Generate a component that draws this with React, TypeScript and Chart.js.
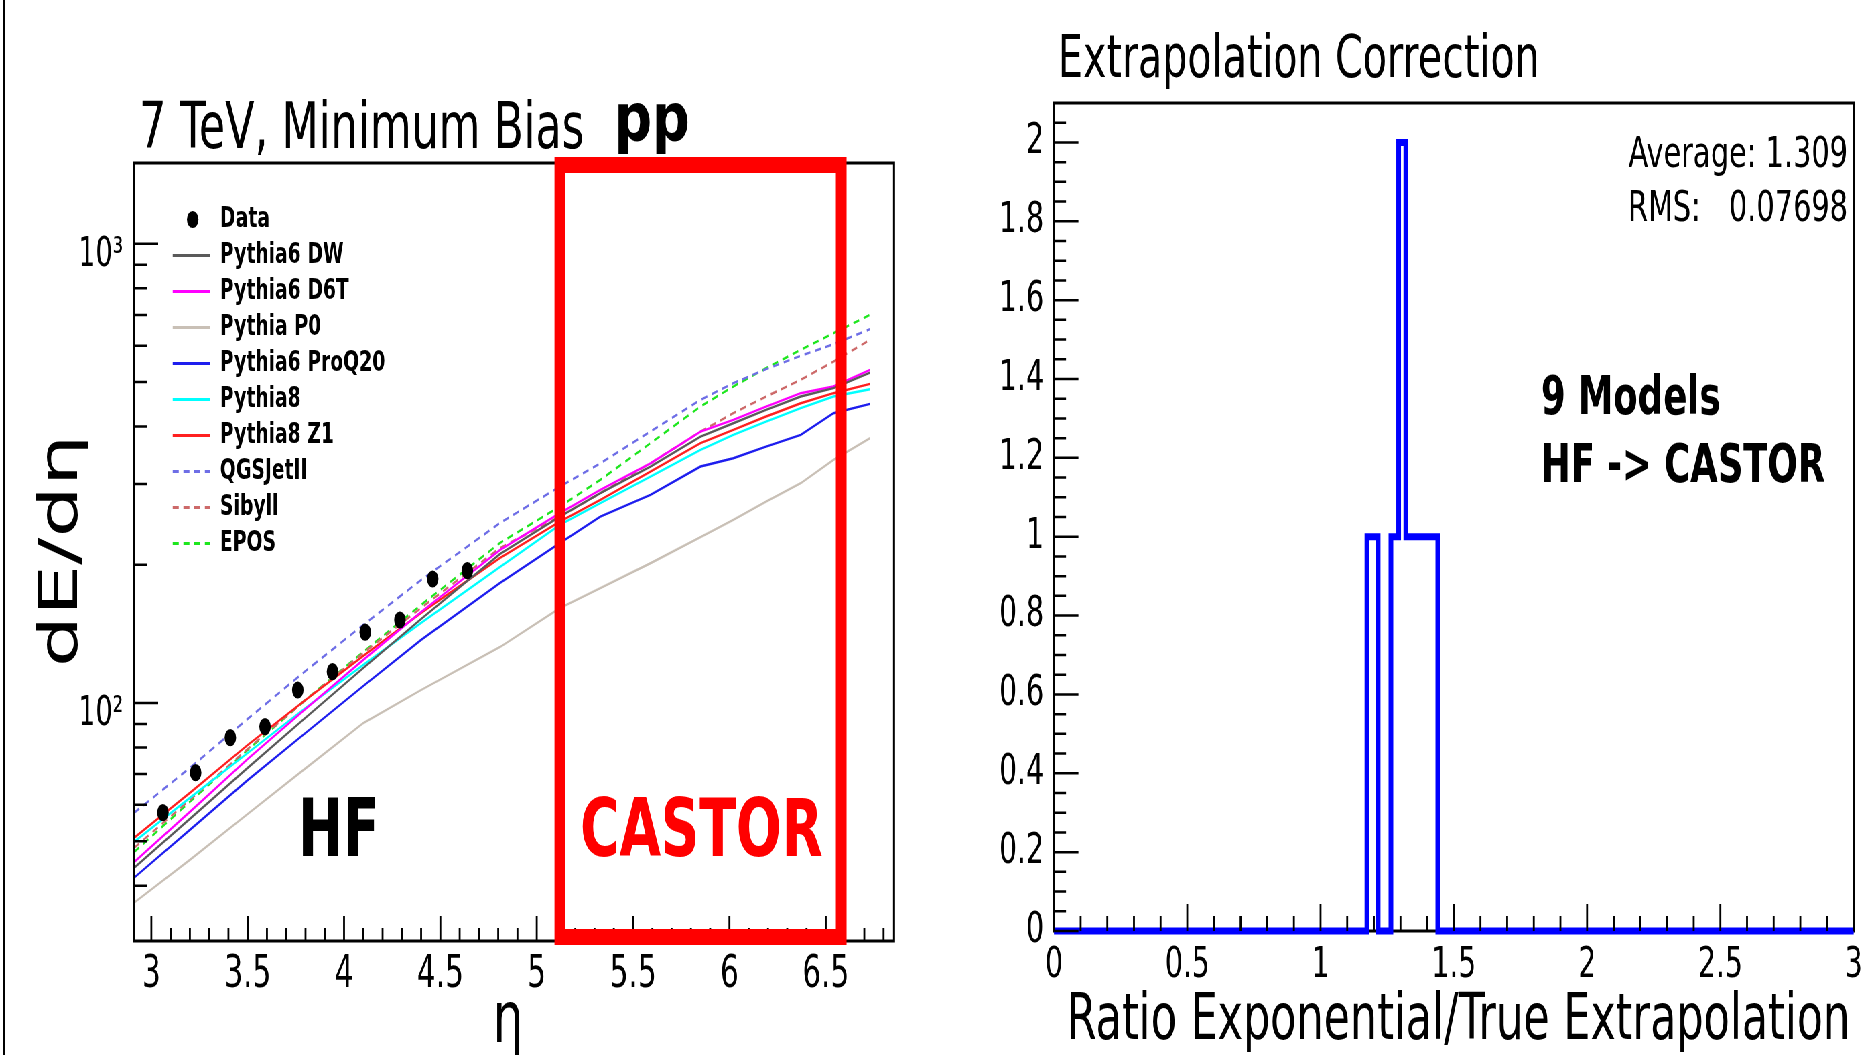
import React, { useEffect, useRef } from 'react';
import { Chart, registerables } from 'chart.js';

Chart.register(...registerables);

// ---------- layout helpers (picture is horizontally compressed) ----------
const K = 0.67;
const LEFT_W = 1433;
const RIGHT_W = 1357;
const H = 1055;
const fx = (full: number) => full / K;
const rx = (full: number) => full / K - LEFT_W;
const FONT = 'DejaVu Sans';

// ---------- LEFT PANEL DATA ----------
const etaGrid = [2.91, 3.2, 3.5, 3.8, 4.1, 4.4, 4.81, 5.12, 5.33, 5.59, 5.85, 6.02, 6.19, 6.37, 6.54, 6.73];
const dataEta = [3.06, 3.23, 3.41, 3.59, 3.76, 3.94, 4.11, 4.29, 4.46, 4.64];
const dataVals = [57.7, 70.5, 84.0, 88.8, 106.7, 117.0, 142.6, 151.6, 186.2, 194.2];

const pythia6DW = [43.7, 55.9, 72.2, 92.8, 119.2, 152.4, 211.2, 254.7, 286.3, 327.3, 380.4, 406.7, 434.9, 465.0, 484.8, 524.4];
const pythia6D6T = [45.0, 57.9, 75.5, 97.0, 124.1, 157.8, 215.4, 259.0, 291.1, 332.7, 390.0, 413.6, 442.2, 472.8, 488.9, 531.5];
const pythiaP0 = [36.7, 45.5, 57.3, 72.0, 90.4, 106.7, 132.4, 160.8, 177.8, 201.5, 229.6, 250.4, 274.6, 301.0, 338.4, 377.2];
const pythia6ProQ20 = [41.6, 52.9, 67.9, 86.0, 108.9, 137.2, 182.6, 222.8, 254.7, 283.9, 327.3, 341.2, 361.8, 383.6, 427.6, 448.1];
const pythia8 = [49.8, 62.1, 77.8, 97.5, 121.0, 149.4, 197.8, 244.2, 272.3, 311.2, 355.8, 383.6, 410.1, 438.5, 465.0, 482.4];
const pythia8Z1 = [50.8, 63.7, 81.0, 101.5, 126.6, 157.1, 207.0, 248.4, 276.9, 319.2, 367.9, 393.4, 420.6, 449.6, 472.8, 495.5];
const qgsJetII = [57.6, 72.2, 92.3, 117.4, 147.9, 185.3, 246.7, 296.0, 332.7, 390.0, 457.3, 497.1, 533.3, 570.2, 604.5, 651.9];
const sibyll = [48.3, 61.5, 79.4, 101.5, 128.5, 161.1, 217.6, 254.7, 286.3, 332.7, 390.0, 427.6, 464.9, 505.5, 554.1, 617.8];
const epos = [47.3, 60.9, 79.0, 101.5, 129.2, 163.5, 223.2, 267.8, 306.1, 367.9, 442.2, 488.9, 536.0, 587.6, 638.9, 700.4];

const modelNames = ['Pythia6 DW', 'Pythia6 D6T', 'Pythia P0', 'Pythia6 ProQ20', 'Pythia8', 'Pythia8 Z1', 'QGSJetII', 'Sibyll', 'EPOS'];
const modelValues = [pythia6DW, pythia6D6T, pythiaP0, pythia6ProQ20, pythia8, pythia8Z1, qgsJetII, sibyll, epos];
const modelColors = ['#5a5a5a', '#ff00ff', '#c9c0b6', '#1e1eee', '#00ffff', '#ff2020', '#6e6ee6', '#cd6a6a', '#1ee61e'];
const modelDashed = [false, false, false, false, false, false, true, true, true];

const leftXMajor = [3, 3.5, 4, 4.5, 5, 5.5, 6, 6.5];
const leftYMajor = [100, 1000];
const leftYLabels = ['10²', '10³'];
const leftYMinor = [40, 50, 60, 70, 80, 90, 200, 300, 400, 500, 600, 700, 800, 900];
const castorEta = [5.12, 6.58];

// ---------- RIGHT PANEL DATA ----------
const histEdges = [0, 1.174, 1.216, 1.264, 1.293, 1.32, 1.44, 3];
const histCounts = [0, 1, 0, 1, 2, 1, 0];
const rightXMajor = [0, 0.5, 1, 1.5, 2, 2.5, 3];
const rightYMajor = [0, 0.2, 0.4, 0.6, 0.8, 1, 1.2, 1.4, 1.6, 1.8, 2];
const statsAverage = '1.309';
const statsRMS = '0.07698';

const near = (arr: number[], v: number) => arr.some((m) => Math.abs(m - v) < 1e-6);

function text(ctx: any, s: string, x: number, y: number, font: string, color = '#000', align = 'left', baseline = 'alphabetic') {
  ctx.save();
  ctx.font = font;
  ctx.fillStyle = color;
  ctx.textAlign = align;
  ctx.textBaseline = baseline;
  ctx.fillText(s, x, y);
  ctx.restore();
}

const leftDecor = {
  id: 'leftDecor',
  afterDatasetsDraw(chart: any) {
    const { ctx, chartArea: a } = chart;
    const xs = chart.scales.x;
    const ys = chart.scales.y;
    ctx.save();
    ctx.strokeStyle = '#000';
    ctx.lineWidth = 3;
    ctx.strokeRect(a.left, a.top, a.right - a.left, a.bottom - a.top);
    ctx.lineWidth = 2.8;
    ctx.beginPath();
    xs.ticks.forEach((t: any) => {
      const px = xs.getPixelForValue(t.value);
      const major = near(leftXMajor, t.value);
      ctx.moveTo(px, a.bottom);
      ctx.lineTo(px, a.bottom - (major ? 25 : 13));
    });
    ctx.stroke();
    ctx.lineWidth = 2.5;
    ctx.beginPath();
    ys.ticks.forEach((t: any) => {
      const py = ys.getPixelForValue(t.value);
      const major = near(leftYMajor, t.value);
      ctx.moveTo(a.left, py);
      ctx.lineTo(a.left + (major ? 36 : 19), py);
    });
    ctx.stroke();
    // CASTOR box
    ctx.strokeStyle = '#ff0000';
    ctx.lineWidth = 16;
    const x0 = xs.getPixelForValue(castorEta[0]);
    const x1 = xs.getPixelForValue(castorEta[1]);
    ctx.strokeRect(x0, a.top + 2, x1 - x0, a.bottom - 4 - (a.top + 2));
    ctx.restore();
  },
  afterDraw(chart: any) {
    const { ctx } = chart;
    ctx.save();
    ctx.fillStyle = '#000';
    ctx.fillRect(fx(4) - 1.5, 0, 3, H);
    ctx.restore();
    text(ctx, '7 TeV, Minimum Bias', fx(139), 148, `64px ${FONT}`);
    ctx.save();
    ctx.translate(fx(614), 140);
    ctx.scale(1.2, 1);
    text(ctx, 'pp', 0, 0, `bold 66px ${FONT}`);
    ctx.restore();
    text(ctx, 'HF', fx(298), 856, `bold 80px ${FONT}`);
    text(ctx, 'CASTOR', fx(580), 856, `bold 80px ${FONT}`, '#ff0000');
    text(ctx, 'η', fx(508), 1042, `72px ${FONT}`, '#000', 'center');
    ctx.save();
    ctx.translate(fx(77), 551);
    ctx.rotate(-Math.PI / 2);
    text(ctx, 'dE/dη', 0, 0, `81px ${FONT}`, '#000', 'center');
    ctx.restore();
    // legend
    const rows = ['Data', ...modelNames];
    rows.forEach((name, i) => {
      const yy = 219.5 + i * 36;
      ctx.save();
      if (i === 0) {
        ctx.fillStyle = '#000';
        ctx.beginPath();
        ctx.arc(fx(192.7), yy, 8.6, 0, Math.PI * 2);
        ctx.fill();
      } else {
        ctx.strokeStyle = modelColors[i - 1];
        ctx.lineWidth = 3;
        ctx.setLineDash(modelDashed[i - 1] ? [9, 7] : []);
        ctx.beginPath();
        ctx.moveTo(fx(172.7), yy);
        ctx.lineTo(fx(210), yy);
        ctx.stroke();
      }
      ctx.restore();
      text(ctx, name, fx(220), yy, `bold 28px ${FONT}`, '#000', 'left', 'middle');
    });
  },
};

const rightDecor = {
  id: 'rightDecor',
  beforeDatasetsDraw(chart: any) {
    const { ctx, chartArea: a } = chart;
    ctx.save();
    ctx.strokeStyle = '#000';
    ctx.lineWidth = 3;
    ctx.strokeRect(a.left, a.top, a.right - a.left, a.bottom - a.top);
    ctx.restore();
  },
  afterDatasetsDraw(chart: any) {
    const { ctx, chartArea: a } = chart;
    const xs = chart.scales.x;
    const ys = chart.scales.y;
    ctx.save();
    ctx.strokeStyle = '#000';
    ctx.lineWidth = 2.8;
    ctx.beginPath();
    xs.ticks.forEach((t: any) => {
      const px = xs.getPixelForValue(t.value);
      const major = near(rightXMajor, t.value);
      ctx.moveTo(px, a.bottom);
      ctx.lineTo(px, a.bottom - (major ? 27 : 15));
    });
    ctx.stroke();
    ctx.lineWidth = 2.5;
    ctx.beginPath();
    ys.ticks.forEach((t: any) => {
      const py = ys.getPixelForValue(t.value);
      const major = near(rightYMajor, t.value);
      ctx.moveTo(a.left, py);
      ctx.lineTo(a.left + (major ? 36.5 : 18), py);
    });
    ctx.stroke();
    ctx.restore();
  },
  afterDraw(chart: any) {
    const { ctx } = chart;
    text(ctx, 'Extrapolation Correction', rx(1058), 77, `59px ${FONT}`);
    text(ctx, 'Average: ' + statsAverage, rx(1848), 167, `43px ${FONT}`, '#000', 'right');
    text(ctx, 'RMS:', rx(1628), 221, `43px ${FONT}`);
    text(ctx, statsRMS, rx(1848), 221, `43px ${FONT}`, '#000', 'right');
    text(ctx, '9 Models', rx(1541), 414, `bold 53px ${FONT}`);
    text(ctx, 'HF -> CASTOR', rx(1541), 482, `bold 53px ${FONT}`);
    text(ctx, 'Ratio Exponential/True Extrapolation', rx(1458.5), 1039, `64px ${FONT}`, '#000', 'center');
  },
};

const leftXTicks: number[] = [];
for (let i = 30; i <= 68; i++) leftXTicks.push(i / 10);
const leftYTicks = [...leftYMinor, ...leftYMajor].sort((p, q) => p - q);
const rightXTicks: number[] = [];
for (let i = 0; i <= 30; i++) rightXTicks.push(i / 10);
const rightYTicks: number[] = [];
for (let i = 0; i <= 41; i++) rightYTicks.push(i / 20);

function makeLeft(canvas: HTMLCanvasElement) {
  const datasets: any[] = [
    {
      label: 'Data',
      data: dataEta.map((x, i) => ({ x, y: dataVals[i] })),
      showLine: false,
      pointRadius: 8.6,
      pointHoverRadius: 8.6,
      pointBackgroundColor: '#000',
      pointBorderWidth: 0,
    },
    ...modelNames.map((n, i) => ({
      label: n,
      data: etaGrid.map((x, j) => ({ x, y: modelValues[i][j] })),
      showLine: true,
      borderColor: modelColors[i],
      borderWidth: 2.4,
      borderDash: modelDashed[i] ? [9, 7] : [],
      pointRadius: 0,
      tension: 0,
    })),
  ];
  return new Chart(canvas, {
    type: 'scatter',
    data: { datasets },
    options: {
      animation: false,
      responsive: false,
      devicePixelRatio: 1,
      events: [],
      layout: { padding: { left: fx(134) - 150, right: LEFT_W - fx(894), top: 163, bottom: H - 941 - 60 }, autoPadding: false },
      plugins: { legend: { display: false }, tooltip: { enabled: false }, title: { display: false } },
      scales: {
        x: {
          type: 'linear',
          position: 'bottom',
          min: 2.91,
          max: 6.854,
          grid: { display: false, drawTicks: false },
          border: { display: false },
          afterBuildTicks: (ax: any) => { ax.ticks = leftXTicks.map((v) => ({ value: v })); },
          afterFit: (ax: any) => { ax.height = 60; },
          ticks: {
            autoSkip: false, maxRotation: 0, minRotation: 0, padding: 8, color: '#000',
            font: { size: 44, family: FONT },
            callback: (v: any) => (near(leftXMajor, v) ? String(Math.round(v * 10) / 10) : ''),
          },
        },
        y: {
          type: 'logarithmic',
          min: 30.3,
          max: 1500,
          grid: { display: false, drawTicks: false },
          border: { display: false },
          afterBuildTicks: (ax: any) => { ax.ticks = leftYTicks.map((v) => ({ value: v })); },
          afterFit: (ax: any) => { ax.width = 150; },
          ticks: {
            autoSkip: false, padding: 16, labelOffset: 12, color: '#000',
            font: { size: 40, family: FONT },
            callback: (v: any) => {
              const k = leftYMajor.indexOf(v);
              return k >= 0 ? leftYLabels[k] : '';
            },
          },
        },
      },
    } as any,
    plugins: [leftDecor],
  } as any);
}

function makeRight(canvas: HTMLCanvasElement) {
  const histPoints = histEdges.map((e, i) => ({ x: e, y: histCounts[Math.min(i, histCounts.length - 1)] }));
  return new Chart(canvas, {
    type: 'scatter',
    data: {
      datasets: [
        {
          label: 'Ratio',
          data: histPoints,
          showLine: true,
          stepped: true,
          borderColor: '#0000ff',
          borderWidth: 7,
          pointRadius: 0,
          clip: false,
        },
      ],
    },
    options: {
      animation: false,
      responsive: false,
      devicePixelRatio: 1,
      events: [],
      layout: { padding: { left: rx(1054) - 130, right: RIGHT_W - rx(1862), top: 103, bottom: H - 931 - 60 }, autoPadding: false },
      plugins: { legend: { display: false }, tooltip: { enabled: false }, title: { display: false } },
      scales: {
        x: {
          type: 'linear',
          position: 'bottom',
          min: 0,
          max: 3,
          grid: { display: false, drawTicks: false },
          border: { display: false },
          afterBuildTicks: (ax: any) => { ax.ticks = rightXTicks.map((v) => ({ value: v })); },
          afterFit: (ax: any) => { ax.height = 60; },
          ticks: {
            autoSkip: false, maxRotation: 0, minRotation: 0, padding: 10, color: '#000',
            font: { size: 42, family: FONT },
            callback: (v: any) => (near(rightXMajor, v) ? String(Math.round(v * 10) / 10) : ''),
          },
        },
        y: {
          type: 'linear',
          min: 0,
          max: 2.1,
          grid: { display: false, drawTicks: false },
          border: { display: false },
          afterBuildTicks: (ax: any) => { ax.ticks = rightYTicks.map((v) => ({ value: v })); },
          afterFit: (ax: any) => { ax.width = 130; },
          ticks: {
            autoSkip: false, padding: 15, color: '#000',
            font: { size: 42, family: FONT },
            callback: (v: any) => (near(rightYMajor, v) ? String(Math.round(v * 10) / 10) : ''),
          },
        },
      },
    } as any,
    plugins: [rightDecor],
  } as any);
}

export default function App() {
  const leftRef = useRef<HTMLCanvasElement | null>(null);
  const rightRef = useRef<HTMLCanvasElement | null>(null);

  useEffect(() => {
    const l = makeLeft(leftRef.current as HTMLCanvasElement);
    const r = makeRight(rightRef.current as HTMLCanvasElement);
    return () => {
      l.destroy();
      r.destroy();
    };
  }, []);

  return (
    <div style={{ position: 'fixed', left: 0, top: 0, width: 1869, height: H, overflow: 'hidden', background: '#fff' }}>
      <div
        style={{
          position: 'absolute', left: 0, top: 0, width: LEFT_W + RIGHT_W, height: H,
          transform: `scaleX(${K})`, transformOrigin: '0 0',
        }}
      >
        <canvas ref={leftRef} width={LEFT_W} height={H} style={{ position: 'absolute', left: 0, top: 0, width: LEFT_W, height: H }} />
        <canvas ref={rightRef} width={RIGHT_W} height={H} style={{ position: 'absolute', left: LEFT_W, top: 0, width: RIGHT_W, height: H }} />
      </div>
    </div>
  );
}
